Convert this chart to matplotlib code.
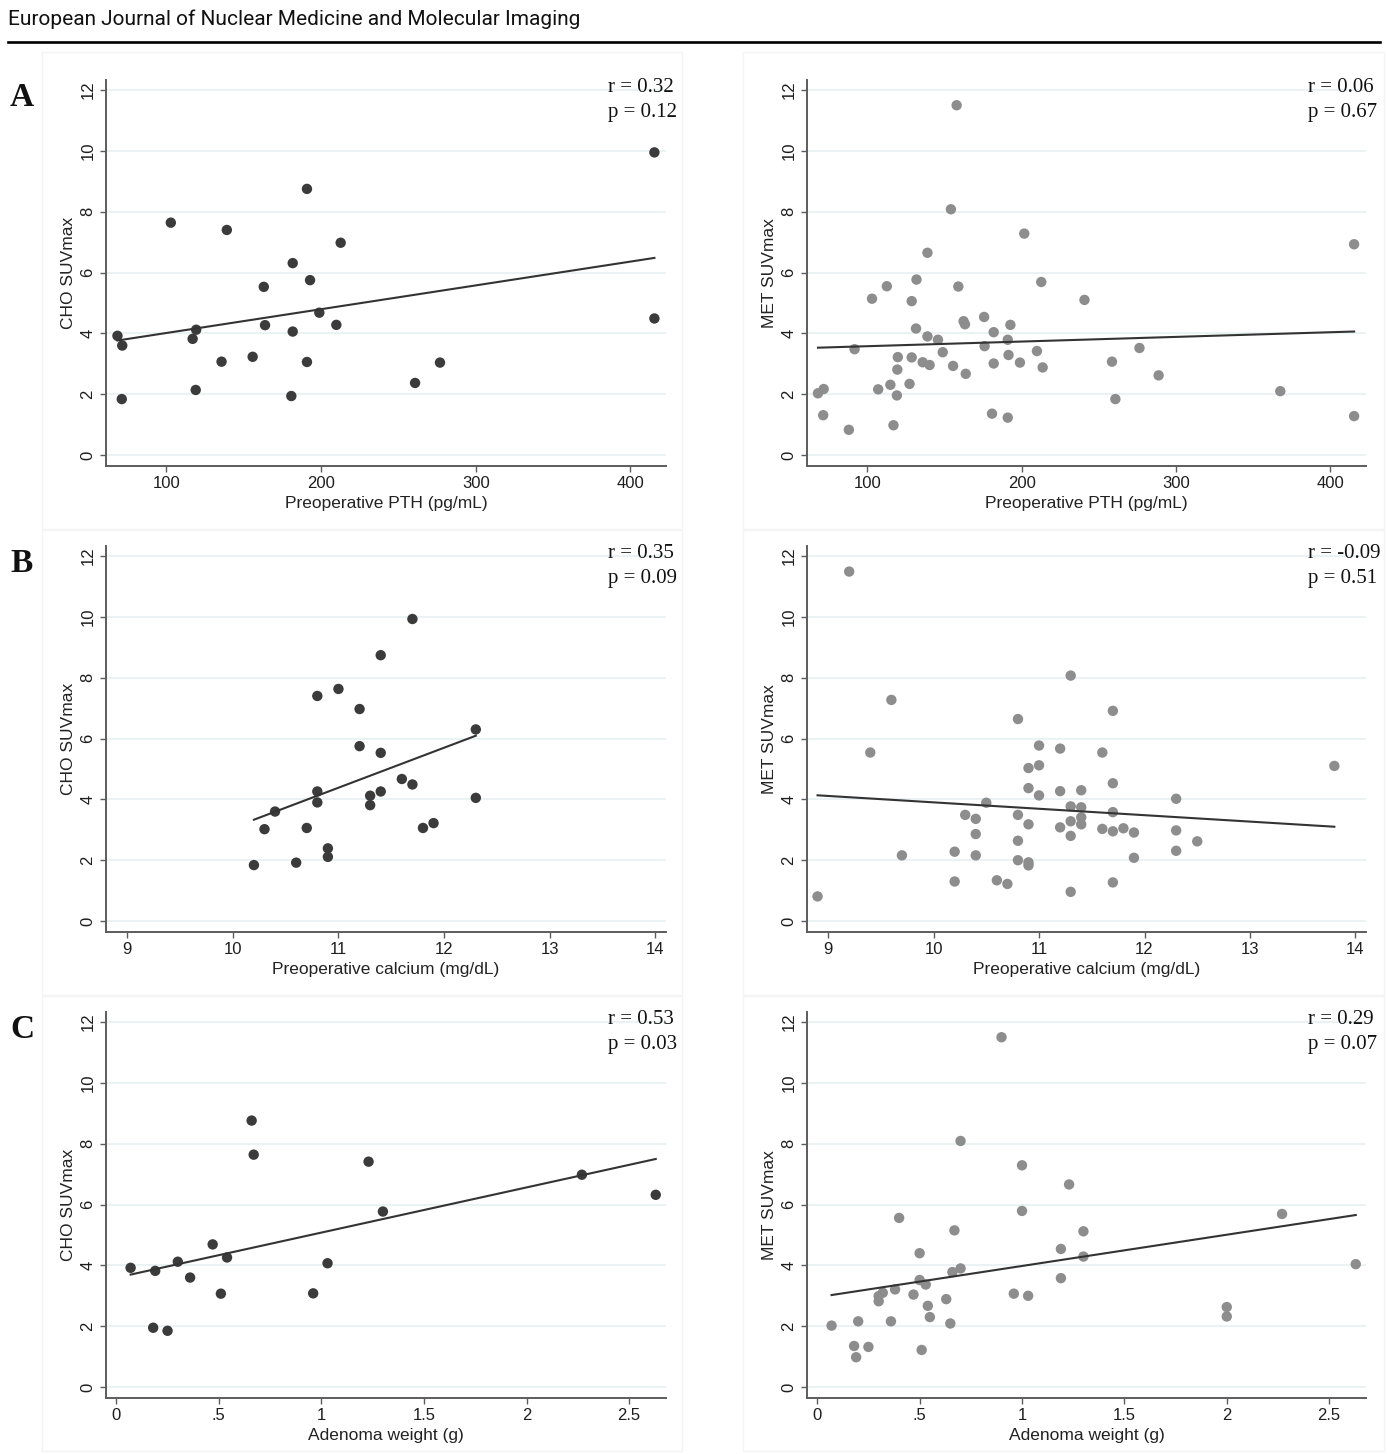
import numpy as np
import matplotlib
matplotlib.use("Agg")
import matplotlib.pyplot as plt
from matplotlib.patches import Rectangle

# ---------------- data ----------------
# Panel A: preoperative PTH (pg/mL)
cho_pth_x = [68.4, 71.5, 71.2, 102.9, 139.1, 117.0, 119.3, 119.0, 135.7, 155.8,
             163.0, 163.8, 181.7, 181.7, 180.8, 190.9, 192.9, 190.9, 198.9, 212.7,
             209.9, 260.8, 276.9, 415.5, 415.5]
cho_pth_y = [3.92, 3.60, 1.84, 7.64, 7.40, 3.82, 4.12, 2.14, 3.07, 3.23,
             5.53, 4.27, 6.31, 4.06, 1.94, 8.75, 5.75, 3.06, 4.68, 6.98,
             4.28, 2.37, 3.04, 9.95, 4.49]

met_pth_x = [68.1, 71.8, 71.5, 88.1, 91.8, 103.1, 107.1, 112.7, 115.0, 117.0,
             119.5, 119.8, 119.2, 127.4, 128.8, 128.8, 131.9, 131.6, 135.9, 139.0,
             139.0, 140.4, 145.8, 148.9, 154.2, 155.6, 157.9, 159.0, 162.4, 163.3,
             163.8, 175.7, 176.0, 180.8, 181.9, 181.9, 191.0, 191.5, 192.7, 191.0,
             198.9, 201.7, 209.9, 212.7, 213.6, 240.7, 258.5, 260.7, 276.3, 288.7,
             367.5, 415.3, 415.3]
met_pth_y = [2.03, 2.17, 1.31, 0.83, 3.48, 5.14, 2.16, 5.55, 2.31, 0.98,
             2.81, 3.22, 1.96, 2.34, 5.06, 3.21, 5.77, 4.16, 3.05, 6.65,
             3.90, 2.96, 3.79, 3.38, 8.08, 2.93, 11.50, 5.54, 4.40, 4.30,
             2.67, 4.54, 3.58, 1.36, 4.04, 3.01, 3.79, 3.29, 4.28, 1.23,
             3.04, 7.28, 3.42, 5.69, 2.88, 5.10, 3.07, 1.84, 3.52, 2.62,
             2.10, 6.93, 1.28]

# Panel B: preoperative calcium (mg/dL)
cho_ca_x = [10.2, 10.3, 10.4, 10.6, 10.7, 10.8, 10.8, 10.8, 10.9, 10.9,
            11.0, 11.2, 11.2, 11.3, 11.3, 11.4, 11.4, 11.4, 11.6, 11.7,
            11.7, 11.8, 11.9, 12.3, 12.3]
cho_ca_y = [1.84, 3.02, 3.60, 1.92, 3.06, 7.40, 4.26, 3.90, 2.39, 2.11,
            7.63, 6.97, 5.75, 4.12, 3.81, 8.74, 5.53, 4.26, 4.67, 9.93,
            4.49, 3.06, 3.22, 6.30, 4.05]

met_ca_x = [8.9, 9.2, 9.4, 9.6, 9.7, 10.2, 10.2, 10.3, 10.4, 10.4,
            10.4, 10.5, 10.6, 10.7, 10.8, 10.8, 10.8, 10.8, 10.9, 10.9,
            10.9, 10.9, 10.9, 11.0, 11.0, 11.0, 11.2, 11.2, 11.2, 11.3,
            11.3, 11.3, 11.3, 11.3, 11.4, 11.4, 11.4, 11.4, 11.6, 11.6,
            11.7, 11.7, 11.7, 11.7, 11.7, 11.8, 11.9, 11.9, 12.3, 12.3,
            12.3, 12.5, 13.8]
met_ca_y = [0.81, 11.49, 5.54, 7.27, 2.16, 2.28, 1.30, 3.49, 3.36, 2.86,
            2.16, 3.89, 1.34, 1.22, 6.64, 3.49, 2.64, 2.00, 5.03, 4.37,
            3.18, 1.93, 1.83, 5.77, 5.12, 4.13, 5.67, 4.27, 3.08, 8.07,
            3.77, 3.28, 2.80, 0.96, 4.30, 3.74, 3.41, 3.18, 5.54, 3.03,
            6.91, 4.53, 3.58, 2.95, 1.27, 3.05, 2.91, 2.08, 4.02, 2.98,
            2.31, 2.62, 5.10]

# Panel C: adenoma weight (g)
cho_wt_x = [0.07, 0.19, 0.18, 0.25, 0.30, 0.36, 0.47, 0.51, 0.54, 0.66,
            0.67, 0.96, 1.03, 1.23, 1.30, 2.27, 2.63]
cho_wt_y = [3.92, 3.82, 1.95, 1.85, 4.12, 3.60, 4.69, 3.07, 4.26, 8.76,
            7.64, 3.08, 4.07, 7.41, 5.77, 6.98, 6.32]

met_wt_x = [0.07, 0.18, 0.19, 0.20, 0.25, 0.30, 0.30, 0.32, 0.36, 0.38,
            0.40, 0.47, 0.50, 0.50, 0.53, 0.51, 0.54, 0.55, 0.63, 0.65,
            0.66, 0.67, 0.70, 0.70, 0.90, 0.96, 1.00, 1.00, 1.03, 1.19,
            1.19, 1.23, 1.30, 1.30, 2.00, 2.00, 2.27, 2.63]
met_wt_y = [2.02, 1.35, 0.98, 2.16, 1.32, 2.99, 2.82, 3.10, 2.16, 3.21,
            5.56, 3.04, 4.40, 3.52, 3.37, 1.22, 2.67, 2.30, 2.89, 2.09,
            3.78, 5.15, 3.90, 8.09, 11.50, 3.07, 7.29, 5.79, 3.00, 4.54,
            3.58, 6.66, 5.12, 4.29, 2.63, 2.32, 5.69, 4.04]

stats_r = ["0.32", "0.06", "0.35", "-0.09", "0.53", "0.29"]
stats_p = ["0.12", "0.67", "0.09", "0.51", "0.03", "0.07"]

x_labels = ["Preoperative PTH (pg/mL)", "Preoperative calcium (mg/dL)", "Adenoma weight (g)"]
y_labels = ["CHO SUVmax", "MET SUVmax"]
panel_letters = ["A", "B", "C"]

x_ticks = [[100, 200, 300, 400], [9, 10, 11, 12, 13, 14], [0, 0.5, 1, 1.5, 2, 2.5]]
x_ticklabels = [["100", "200", "300", "400"], ["9", "10", "11", "12", "13", "14"],
                ["0", ".5", "1", "1.5", "2", "2.5"]]
y_ticks = [0, 2, 4, 6, 8, 10, 12]

# ---------------- layout ----------------
W, H = 1388, 1454
fig = plt.figure(figsize=(W / 100, H / 100), dpi=100)
fig.patch.set_facecolor("white")

sans = ["Liberation Sans", "DejaVu Sans"]
serif = ["Liberation Serif", "DejaVu Serif"]


def add_ax(l, t, r, b):
    return fig.add_axes([l / W, 1 - b / H, (r - l) / W, (b - t) / H])


# header
fig.text(8 / W, 1 - 19 / H, "European Journal of Nuclear Medicine and Molecular Imaging",
         family=["Roboto", "DejaVu Sans"], fontsize=15, va="center", ha="left", color="#111111")
fig.add_artist(plt.Line2D([8 / W, 1380 / W], [1 - 42 / H, 1 - 42 / H], color="black", lw=1.9))

col_l = [106, 807]
col_r = [666, 1366]
row_t = [80, 546, 1012]
row_b = [466, 932, 1398]
xlims = [(61, 423), (8.8, 14.1), (-0.05, 2.68)]
ylim = (-0.36, 12.33)

data = [
    (cho_pth_x, cho_pth_y, met_pth_x, met_pth_y),
    (cho_ca_x, cho_ca_y, met_ca_x, met_ca_y),
    (cho_wt_x, cho_wt_y, met_wt_x, met_wt_y),
]
dot_colors = ["#3b3b3b", "#8d8d8d"]

# faint graph-region outlines
box_x = [(42, 682), (743, 1384)]
box_y = [(52, 529), (530, 995), (996, 1451)]
for bx in box_x:
    for by in box_y:
        fig.add_artist(Rectangle((bx[0] / W, 1 - by[1] / H), (bx[1] - bx[0]) / W,
                                 (by[1] - by[0]) / H, transform=fig.transFigure,
                                 fill=False, edgecolor="#f4f4f4", lw=1.0))

for ri in range(3):
    for ci in range(2):
        ax = add_ax(col_l[ci], row_t[ri], col_r[ci], row_b[ri])
        xs = np.array(data[ri][2 * ci])
        ys = np.array(data[ri][2 * ci + 1])
        ax.set_xlim(*xlims[ri])
        ax.set_ylim(*ylim)
        for yt in y_ticks:
            ax.axhline(yt, color="#e6eff0", lw=1.1, zorder=0)
        ax.scatter(xs, ys, s=56, color=dot_colors[ci], edgecolors="none", zorder=3)
        k, b0 = np.polyfit(xs, ys, 1)
        lx = np.array([xs.min(), xs.max()])
        ax.plot(lx, k * lx + b0, color="#333333", lw=1.5, zorder=4)

        for s in ["top", "right"]:
            ax.spines[s].set_visible(False)
        for s in ["left", "bottom"]:
            ax.spines[s].set_color("#5c5c5c")
            ax.spines[s].set_linewidth(1.4)
        ax.set_xticks(x_ticks[ri])
        ax.set_xticklabels(x_ticklabels[ri])
        ax.set_yticks(y_ticks)
        ax.set_yticklabels([str(v) for v in y_ticks], rotation=90, va="center")
        ax.tick_params(axis="both", direction="out", length=4.5, width=1.0, color="#5c5c5c",
                       labelsize=12, labelcolor="#1e1e1e", pad=3)
        for lab in ax.get_xticklabels() + ax.get_yticklabels():
            lab.set_family(sans)
        ax.set_xlabel(x_labels[ri], family=sans, fontsize=12.5, color="#222222", labelpad=3)
        ax.set_ylabel(y_labels[ci], family=sans, fontsize=12.5, color="#222222", labelpad=3)
        ax.set_facecolor("white")

        idx = ri * 2 + ci
        tx = [608, 1308][ci]
        fig.text(tx / W, 1 - (92 + 466 * ri) / H, "r = " + stats_r[idx], family=serif,
                 fontsize=15, va="baseline", ha="left", color="#111111")
        fig.text(tx / W, 1 - (117 + 466 * ri) / H, "p = " + stats_p[idx], family=serif,
                 fontsize=15, va="baseline", ha="left", color="#111111")

    fig.text(22 / W, 1 - (97 + 466 * ri) / H, panel_letters[ri], family=serif, fontsize=24,
             fontweight="bold", va="center", ha="center", color="#111111")

fig.savefig("out.png", dpi=100, facecolor="white")
